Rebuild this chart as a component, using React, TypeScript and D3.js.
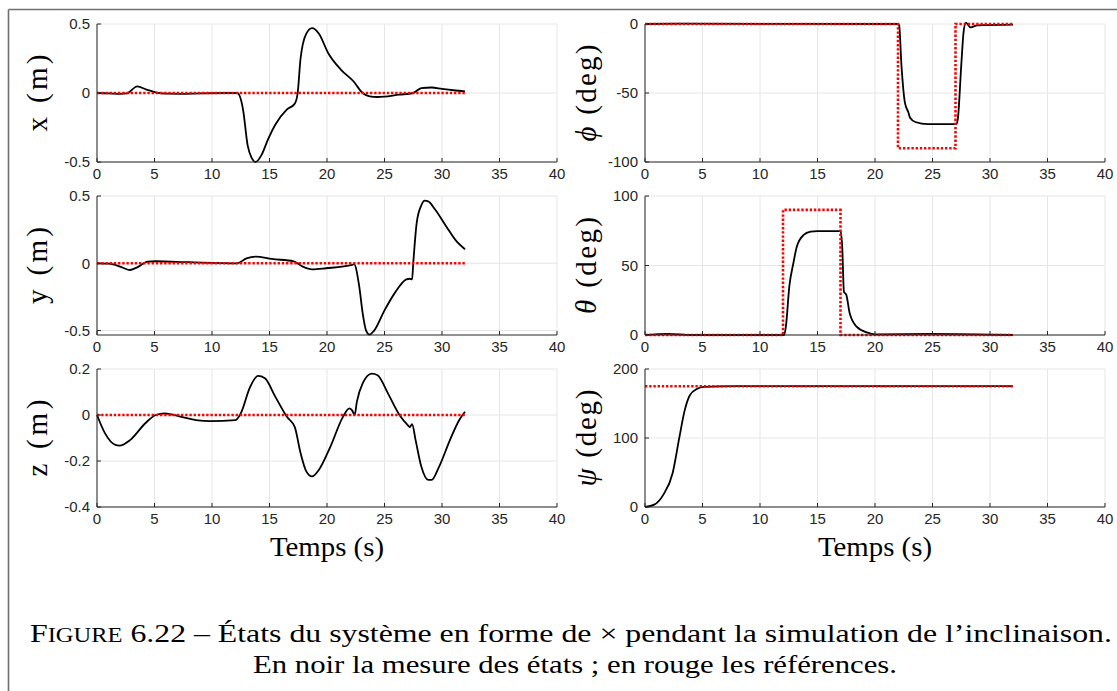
import React from 'react';
import * as d3 from 'd3';

// ---------- data ----------
const timeTicks = [0, 5, 10, 15, 20, 25, 30, 35, 40];

// x (m)
const xT = [0, 1, 2, 2.6, 3.5, 4.3, 5.1, 6, 7.3, 9, 12.2, 12.7, 13.1, 13.45, 13.8, 14.3, 14.9, 15.5, 16.5, 17.2, 17.45, 17.7, 18.2, 18.7, 19.3, 20.1, 21.2, 22.3, 23.1, 23.7, 24.4, 26.3, 27.5, 28.2, 29.1, 30, 31, 32];
const xM = [0, -0.002, -0.006, -0.003, 0.048, 0.025, 0.005, -0.005, -0.006, -0.002, 0, -0.12, -0.38, -0.47, -0.5, -0.45, -0.33, -0.23, -0.12, -0.077, 0, 0.25, 0.43, 0.47, 0.43, 0.29, 0.17, 0.085, 0, -0.024, -0.029, -0.012, 0, 0.036, 0.04, 0.03, 0.02, 0.012];
const xRefT = [0, 32];
const xRefV = [0, 0];

// y (m)
const yT = [0, 1, 1.6, 2.3, 2.85, 3.5, 4.4, 5.1, 8, 12.2, 13, 13.8, 15.2, 17.1, 17.9, 18.7, 19.9, 22.2, 22.35, 22.8, 23.1, 23.4, 23.7, 24.1, 25, 25.9, 26.9, 27.2, 27.4, 27.5, 27.8, 28.2, 28.5, 28.8, 29.4, 30.4, 31.2, 32];
const yM = [0, -0.003, -0.012, -0.035, -0.05, -0.03, 0.012, 0.015, 0.008, 0, 0.037, 0.05, 0.032, 0.015, -0.025, -0.045, -0.037, -0.012, -0.007, -0.17, -0.37, -0.5, -0.53, -0.5, -0.35, -0.22, -0.12, -0.115, -0.12, 0, 0.3, 0.43, 0.465, 0.46, 0.4, 0.27, 0.17, 0.104];
const yRefT = [0, 32];
const yRefV = [0, 0];

// z (m)
const zT = [0, 0.7, 1.6, 1.95, 2.9, 4.2, 5.1, 5.9, 7, 8.6, 9.85, 12.05, 12.5, 13.3, 14, 14.6, 15.5, 16.5, 17.2, 17.7, 18.2, 18.7, 19.3, 20.3, 21.4, 21.95, 22.2, 22.4, 22.6, 23.1, 23.9, 24.4, 25.3, 26.3, 27.1, 27.2, 27.4, 27.7, 28.2, 28.8, 29.1, 29.7, 30.7, 31.5, 32];
const zM = [0, -0.08, -0.13, -0.133, -0.108, -0.036, 0, 0.007, -0.004, -0.022, -0.027, -0.022, 0.007, 0.12, 0.17, 0.16, 0.08, -0.007, -0.053, -0.165, -0.245, -0.267, -0.238, -0.137, -0.007, 0.029, 0.019, 0, 0.058, 0.137, 0.18, 0.173, 0.094, 0, -0.048, -0.053, -0.04, -0.108, -0.224, -0.282, -0.282, -0.23, -0.108, -0.022, 0.014];
const zRefT = [0, 32];
const zRefV = [0, 0];

// phi (deg)
const phiT = [0, 3, 22, 22.1, 22.3, 22.6, 22.9, 23.05, 23.5, 24.6, 27.07, 27.2, 27.5, 27.7, 27.9, 28.3, 28.9, 32];
const phiM = [0, 0.2, 0, -1, -30, -57, -64, -68, -71, -72.6, -72.6, -69, -30, -6, 1, -2.4, -1, -0.5];
const phiRefT = [0, 22, 22, 27, 27, 32];
const phiRefV = [0, 0, -90, -90, 0, 0];

// theta (deg)
const thetaT = [0, 2, 4, 12.1, 12.25, 12.55, 12.9, 13.2, 13.8, 14.4, 15, 17, 17.15, 17.3, 17.5, 17.8, 18.4, 19.35, 20, 25, 32];
const thetaM = [0, 0.8, 0, 0, 6, 35, 51.6, 63.5, 72, 74.3, 74.8, 74.8, 63.5, 31, 29, 15.6, 6, 1.7, 0.5, 0.8, 0];
const thetaRefT = [0, 12, 12, 17, 17, 32];
const thetaRefV = [0, 0, 90, 90, 0, 0];

// psi (deg)
const psiT = [0, 0.8, 1.6, 2.4, 3, 3.45, 3.9, 4.5, 5.15, 7.9, 32];
const psiM = [0, 3.4, 18, 49, 102, 140, 162, 171, 174, 175.3, 175.3];
const psiRefT = [0, 32];
const psiRefV = [175, 175];

const xTicksY = [-0.5, 0, 0.5];
const zTicksY = [-0.4, -0.2, 0, 0.2];
const phiTicksY = [-100, -50, 0];
const thetaTicksY = [0, 50, 100];
const psiTicksY = [0, 100, 200];

const xLabel = 'Temps (s)';
const captionLine1a = 'F';
const captionLine1b = 'IGURE';
const captionLine1c = ' 6.22 – États du système en forme de × pendant la simulation de l’inclinaison.';
const captionLine2 = 'En noir la mesure des états ; en rouge les références.';

// ---------- layout ----------
const W = 1117;
const H = 691;
const COLS = [
  { x0: 97, x1: 557, labelX: 38, labelLen: 77 },
  { x0: 645, x1: 1105, labelX: 587, labelLen: 97 },
];
const ROWS = [
  { y0: 24, y1: 162 },
  { y0: 196, y1: 335 },
  { y0: 369, y1: 507 },
];

type PanelSpec = {
  col: number;
  row: number;
  domain: [number, number];
  ticks: number[];
  sym: string;
  italic: boolean;
  unit: string;
  mT: number[];
  mV: number[];
  rT: number[];
  rV: number[];
};

const panels: PanelSpec[] = [
  { col: 0, row: 0, domain: [-0.5, 0.5], ticks: xTicksY, sym: 'x', italic: false, unit: '(m)', mT: xT, mV: xM, rT: xRefT, rV: xRefV },
  { col: 0, row: 1, domain: [-0.533, 0.5], ticks: xTicksY, sym: 'y', italic: false, unit: '(m)', mT: yT, mV: yM, rT: yRefT, rV: yRefV },
  { col: 0, row: 2, domain: [-0.4, 0.2], ticks: zTicksY, sym: 'z', italic: false, unit: '(m)', mT: zT, mV: zM, rT: zRefT, rV: zRefV },
  { col: 1, row: 0, domain: [-100, 0], ticks: phiTicksY, sym: 'ϕ', italic: true, unit: '(deg)', mT: phiT, mV: phiM, rT: phiRefT, rV: phiRefV },
  { col: 1, row: 1, domain: [0, 100], ticks: thetaTicksY, sym: 'θ', italic: true, unit: '(deg)', mT: thetaT, mV: thetaM, rT: thetaRefT, rV: thetaRefV },
  { col: 1, row: 2, domain: [0, 200], ticks: psiTicksY, sym: 'ψ', italic: true, unit: '(deg)', mT: psiT, mV: psiM, rT: psiRefT, rV: psiRefV },
];

const AXIS = '#262626';
const GRID = '#e6e6e6';
const TICK_FONT = "'Liberation Sans', Arial, sans-serif";
const SERIF = "'Liberation Serif', 'Times New Roman', serif";

function Panel({ p }: { p: PanelSpec }) {
  const c = COLS[p.col];
  const r = ROWS[p.row];
  const xs = d3.scaleLinear().domain([0, 40]).range([c.x0, c.x1]);
  const ys = d3.scaleLinear().domain(p.domain).range([r.y1, r.y0]);
  const meas = d3
    .line<number>()
    .x((_, i) => xs(p.mT[i]))
    .y((v) => ys(v))
    .curve(d3.curveMonotoneX)(p.mV);
  const ref = d3
    .line<number>()
    .x((_, i) => xs(p.rT[i]))
    .y((v) => ys(v))(p.rV);
  const cy = (r.y0 + r.y1) / 2;
  return (
    <g>
      {timeTicks.map((t) => (
        <line key={'gx' + t} x1={xs(t)} x2={xs(t)} y1={r.y0} y2={r.y1} stroke={GRID} strokeWidth={1} />
      ))}
      {p.ticks.map((v) => (
        <line key={'gy' + v} x1={c.x0} x2={c.x1} y1={ys(v)} y2={ys(v)} stroke={GRID} strokeWidth={1} />
      ))}
      <path d={meas || ''} fill="none" stroke="#000" strokeWidth={1.8} strokeLinejoin="round" />
      <path d={ref || ''} fill="none" stroke="#ff0000" strokeWidth={2.6} strokeDasharray="2.4 1.8" />
      <line x1={c.x0} x2={c.x1} y1={r.y1} y2={r.y1} stroke={AXIS} strokeWidth={1} />
      <line x1={c.x0} x2={c.x0} y1={r.y0} y2={r.y1} stroke={AXIS} strokeWidth={1} />
      {timeTicks.map((t) => (
        <g key={'tx' + t}>
          <line x1={xs(t)} x2={xs(t)} y1={r.y1} y2={r.y1 - 4} stroke={AXIS} strokeWidth={1} />
          <text x={xs(t)} y={r.y1 + 17} textAnchor="middle" fontFamily={TICK_FONT} fontSize={15} fill={AXIS}>
            {t}
          </text>
        </g>
      ))}
      {p.ticks.map((v) => (
        <g key={'ty' + v}>
          <line x1={c.x0} x2={c.x0 + 4} y1={ys(v)} y2={ys(v)} stroke={AXIS} strokeWidth={1} />
          <text x={c.x0 - 7} y={ys(v)} dy="0.35em" textAnchor="end" fontFamily={TICK_FONT} fontSize={15} fill={AXIS}>
            {String(v)}
          </text>
        </g>
      ))}
      <text
        transform={`translate(${c.labelX},${cy}) rotate(-90)`}
        textAnchor="middle"
        dy="0.3em"
        fontFamily={SERIF}
        fontSize={29}
        fill="#000"
        textLength={c.labelLen}
        lengthAdjust="spacing"
      >
        <tspan fontStyle={p.italic ? 'italic' : 'normal'}>{p.sym}</tspan>
        <tspan>{' ' + p.unit}</tspan>
      </text>
    </g>
  );
}

export default function App() {
  return (
    <svg
      width={W}
      height={H}
      viewBox={`0 0 ${W} ${H}`}
      style={{ position: 'absolute', left: 0, top: 0, background: '#fff' }}
    >
      <rect x={0} y={0} width={W} height={H} fill="#fff" />
      <line x1={8.5} x2={W} y1={9.5} y2={9.5} stroke="#6f6f6f" strokeWidth={1.6} />
      <line x1={8.5} x2={8.5} y1={9.5} y2={H} stroke="#6f6f6f" strokeWidth={1.6} />
      {panels.map((p, i) => (
        <Panel key={i} p={p} />
      ))}
      {COLS.map((c, i) => (
        <text
          key={'xl' + i}
          x={(c.x0 + c.x1) / 2}
          y={556}
          textAnchor="middle"
          fontFamily={SERIF}
          fontSize={27}
          fill="#000"
          textLength={114}
          lengthAdjust="spacingAndGlyphs"
        >
          {xLabel}
        </text>
      ))}
      <text x={571} y={642} textAnchor="middle" fontFamily={SERIF} fontSize={26} fill="#000" textLength={1082} lengthAdjust="spacingAndGlyphs">
        <tspan>{captionLine1a}</tspan>
        <tspan fontSize={20}>{captionLine1b}</tspan>
        <tspan>{captionLine1c}</tspan>
      </text>
      <text x={575} y={673} textAnchor="middle" fontFamily={SERIF} fontSize={26} fill="#000" textLength={644} lengthAdjust="spacingAndGlyphs">
        {captionLine2}
      </text>
    </svg>
  );
}
